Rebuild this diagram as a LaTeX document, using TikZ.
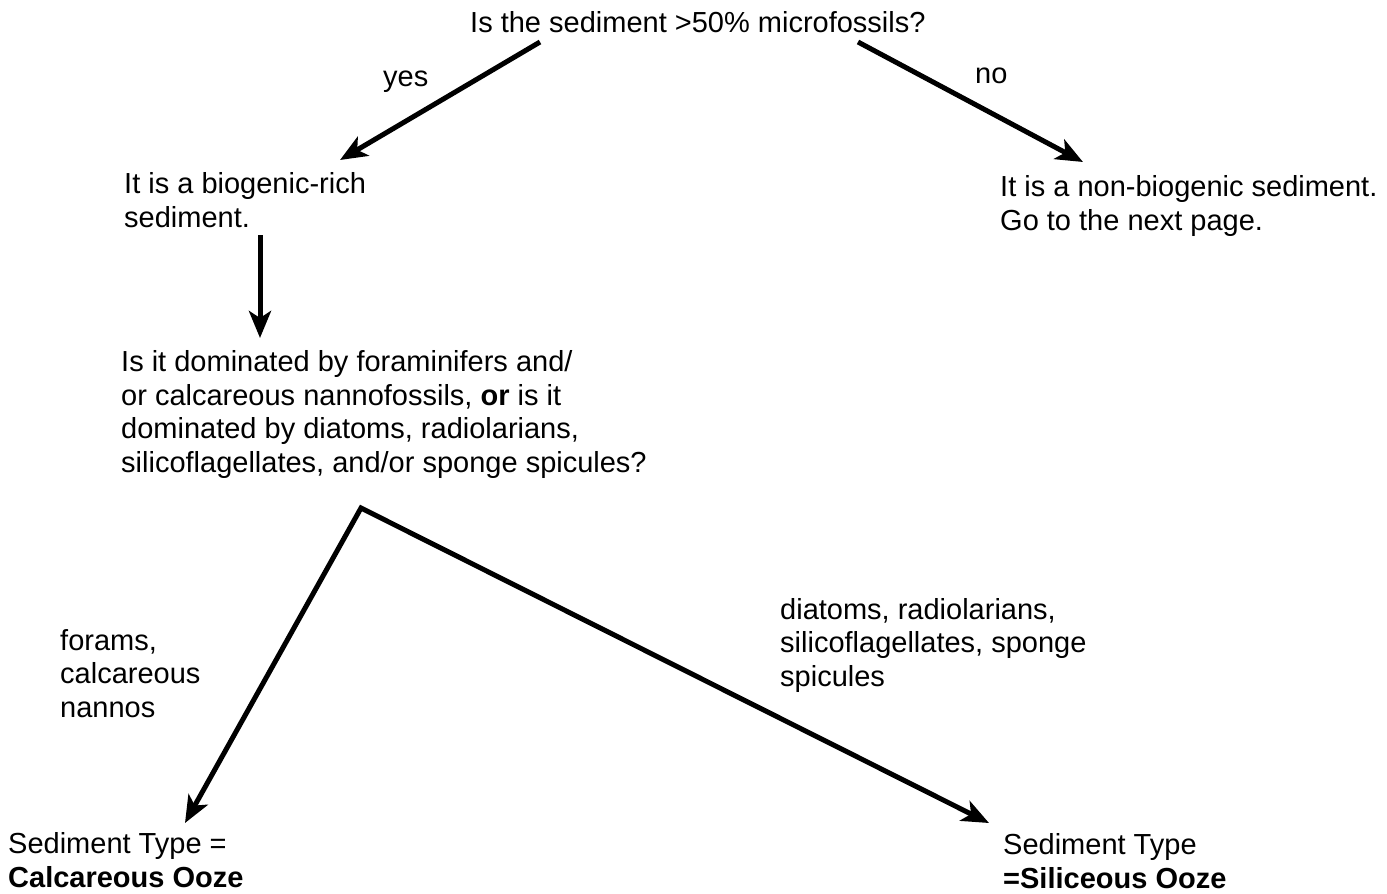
\documentclass[tikz,border=0pt]{standalone}
\usepackage{fontspec}
\setmainfont{Liberation Sans}
\usetikzlibrary{arrows.meta}

\begin{document}
\begin{tikzpicture}[x=1pt, y=-1pt,
    txt/.style={anchor=base west, inner sep=0pt, align=left, font=\fontsize{29}{33.5}\selectfont},
    head/.tip={Stealth[length=27pt, width=22pt, inset=7pt]},
    flow/.style={line width=5pt, -head}]

    \useasboundingbox (0,0) rectangle (1387,894);

    % questions and outcomes (placed at the baseline of their last line)
    \node[txt] (q1) at (470,32) {Is the sediment >50\% microfossils?};
    \node[txt] (bio) at (124,227) {It is a biogenic-rich\\sediment.};
    \node[txt] (nonbio) at (1000,230) {It is a non-biogenic sediment.\\Go to the next page.};
    \node[txt] (q2) at (121,472) {Is it dominated by foraminifers and/\\or calcareous nannofossils, \textbf{or} is it\\dominated by diatoms, radiolarians,\\silicoflagellates, and/or sponge spicules?};
    \node[txt] (calc) at (8,887) {Sediment Type =\\\textbf{Calcareous Ooze}};
    \node[txt] (sil) at (1003,888) {Sediment Type\\\textbf{=Siliceous Ooze}};

    % branch labels
    \node[txt] (yes) at (383,86) {yes};
    \node[txt] (no) at (975,83) {no};
    \node[txt] (forams) at (60,717) {forams,\\calcareous\\nannos};
    \node[txt] (diatoms) at (780,686) {diatoms, radiolarians,\\silicoflagellates, sponge\\spicules};

    % arrow ends
    \coordinate (q1-l) at (540,42);
    \coordinate (q1-r) at (858,42);
    \coordinate (bio-in) at (340,160);
    \coordinate (nonbio-in) at (1083,162);
    \coordinate (bio-out) at (260,235);
    \coordinate (q2-in) at (260,338);
    \coordinate (fork) at (361,508);
    \coordinate (calc-in) at (185,823);
    \coordinate (sil-in) at (989,823);

    \draw[flow] (q1-l) -- (bio-in);
    \draw[flow] (q1-r) -- (nonbio-in);
    \draw[flow] (bio-out) -- (q2-in);
    \draw[line width=5pt, head-head] (calc-in) -- (fork) -- (sil-in);

\end{tikzpicture}
\end{document}
